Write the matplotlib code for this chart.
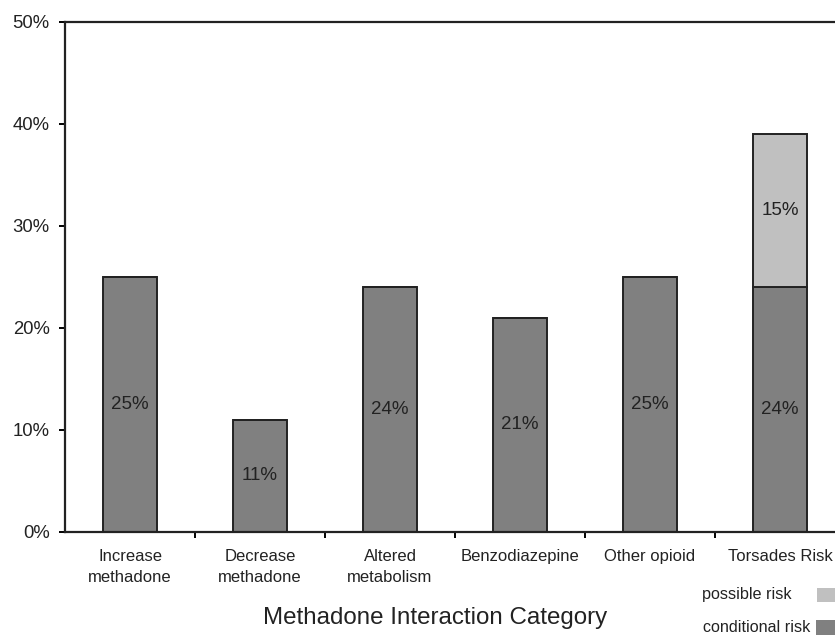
import numpy as np
import matplotlib.pyplot as plt
from matplotlib.patches import Rectangle

plt.rcParams['font.family'] = ['Liberation Sans', 'DejaVu Sans']

# Methadone interaction categories and percentages
categories = ['Increase\nmethadone', 'Decrease\nmethadone', 'Altered\nmetabolism',
              'Benzodiazepine', 'Other opioid', 'Torsades Risk']
conditional = [25, 11, 24, 21, 25, 24]
possible = [0, 0, 0, 0, 0, 15]

dark = '#808080'
light = '#c0c0c0'
ink = '#222222'

fig = plt.figure(figsize=(8.35, 6.35), dpi=100)
ax = fig.add_axes([65 / 835, 103 / 635, 780 / 835, 510 / 635])

x = np.arange(len(categories))
ax.bar(x, conditional, width=0.42, color=dark, edgecolor=ink, linewidth=1.4, zorder=2)
ax.bar(x, possible, width=0.42, bottom=conditional, color=light, edgecolor=ink,
       linewidth=1.4, zorder=2)

# value labels in the middle of each segment
for i in range(len(categories)):
    ax.text(x[i], conditional[i] / 2, f'{conditional[i]}%', ha='center', va='center',
            fontsize=13.5, color=ink)
    if possible[i] > 0:
        ax.text(x[i], conditional[i] + possible[i] / 2, f'{possible[i]}%', ha='center',
                va='center', fontsize=13.5, color=ink)

ax.set_xlim(-0.5, 5.5)
ax.set_ylim(0, 50)
ax.set_yticks(range(0, 51, 10))
ax.set_yticklabels([f'{v}%' for v in range(0, 51, 10)], fontsize=13.3, color=ink)
ax.tick_params(axis='y', direction='out', length=4.5, width=1.4, pad=6.5)

ax.set_xticks(x)
ax.set_xticklabels(categories, fontsize=12, color=ink, linespacing=1.55)
ax.tick_params(axis='x', which='major', length=0, pad=12)
ax.set_xticks(np.arange(0.5, 5.5, 1), minor=True)
ax.tick_params(axis='x', which='minor', direction='out', length=4.5, width=1.4)

for side in ['left', 'bottom', 'top', 'right']:
    ax.spines[side].set_linewidth(1.6)
    ax.spines[side].set_color(ink)

ax.set_xlabel('Methadone Interaction Category', fontsize=17.4, color=ink)
ax.xaxis.set_label_coords((435 - 65) / 780, -(618 - 532) / 510)
ax.xaxis.label.set_va('center')

# legend drawn by hand at the bottom right
fig.text(792 / 835, 1 - 595 / 635, 'possible risk', ha='right', va='center', fontsize=11.6,
         color=ink)
fig.text(810 / 835, 1 - 628 / 635, 'conditional risk', ha='right', va='center', fontsize=11.6,
         color=ink)
fig.patches.append(Rectangle((817 / 835, 1 - 602 / 635), 18 / 835, 14 / 635,
                             transform=fig.transFigure, facecolor=light, edgecolor='none'))
fig.patches.append(Rectangle((816 / 835, 1 - 636 / 635), 19 / 835, 16 / 635,
                             transform=fig.transFigure, facecolor=dark, edgecolor='none'))

fig.savefig('out.png', dpi=100)
